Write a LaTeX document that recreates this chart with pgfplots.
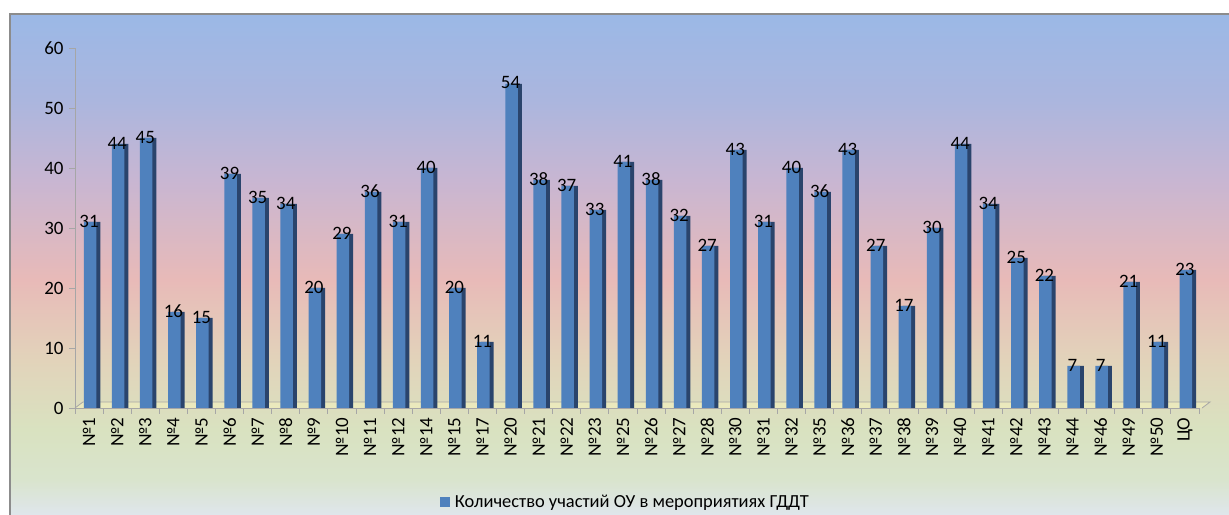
\documentclass[border=0pt]{standalone}
\usepackage{pgfplots}
\pgfplotsset{compat=1.18}
\usepackage{fontspec}
\setmainfont{Carlito}
\definecolor{barblue}{RGB}{79,129,189}
\definecolor{barside}{RGB}{42,68,108}
\definecolor{cA}{RGB}{223,230,236}
\definecolor{cB}{RGB}{217,228,205}
\definecolor{cC}{RGB}{217,226,192}
\definecolor{cD}{RGB}{226,211,186}
\definecolor{cE}{RGB}{232,186,184}
\definecolor{cF}{RGB}{200,182,210}
\definecolor{cG}{RGB}{171,182,222}
\definecolor{cH}{RGB}{155,184,230}
\pgfdeclareverticalshading{bg}{100bp}{color(0bp)=(cA); color(25bp)=(cA); color(28.5bp)=(cB); color(33.5bp)=(cC); color(40.5bp)=(cD); color(48.5bp)=(cE); color(58.4bp)=(cF); color(66.4bp)=(cG); color(75bp)=(cH); color(100bp)=(cH)}
\pgfplotstableread{
x v
0 31
1 44
2 45
3 16
4 15
5 39
6 35
7 34
8 20
9 29
10 36
11 31
12 40
13 20
14 11
15 54
16 38
17 37
18 33
19 41
20 38
21 32
22 27
23 43
24 31
25 40
26 36
27 43
28 27
29 17
30 30
31 44
32 34
33 25
34 22
35 7
36 7
37 21
38 11
39 23
}\data
\begin{document}
\begin{tikzpicture}[x=1bp,y=1bp]
\path[use as bounding box] (0,0) rectangle (1229,515);
\shade[shading=bg] (10,0) rectangle (1229,501);
\draw[gray!90, line width=1.5bp] (10,0) -- (10,501) -- (1229,501);
\fill[white!75!yellow!90!gray, opacity=0.6] (75,107) -- (1202,107) -- (1210,113) -- (83,113) -- cycle;
\draw[gray!70, line width=0.8bp] (1202,107) -- (1210,113) -- (83,113) -- (75,107);
\begin{axis}[
  at={(75bp,107bp)}, anchor=south west,
  scale only axis, width=1124bp, height=360bp,
  xmin=-0.5, xmax=39.5, ymin=0, ymax=60,
  axis lines*=left,
  axis line style={gray!70, line width=0.8bp},
  ytick={0,10,...,60},
  xtick={0,...,39},
  xticklabels={№1,№2,№3,№4,№5,№6,№7,№8,№9,№10,№11,№12,№14,№15,№17,№20,№21,№22,№23,№25,№26,№27,№28,№30,№31,№32,№35,№36,№37,№38,№39,№40,№41,№42,№43,№44,№46,№49,№50,ЦО},
  minor xtick={-0.5,0.5,...,39.5},
  major x tick style={draw=none},
  minor x tick style={gray!70, line width=0.8bp},
  y tick style={gray!70, line width=0.8bp},
  tick align=outside,
  major tick length=6bp, minor tick length=6bp,
  /pgf/number format/assume math mode=true,
  tick label style={font=\fontsize{19}{21}\selectfont, text=black},
  x tick label style={rotate=90, anchor=east},
  y tick label style={xshift=-2bp},
  legend style={at={(0.491,-0.261)}, anchor=center, draw=none, fill=none, font=\fontsize{18.5}{20}\selectfont, text=black, nodes={inner xsep=5bp}},
  clip=false,
]
\addplot[ybar, fill=barside, draw=none, bar width=12.5bp, bar shift=5bp, forget plot] table[x=x,y=v] {\data};
\addplot[ybar, fill=barblue, draw=none, bar width=12.5bp, bar shift=1bp,
  legend image code/.code={\fill[barblue] (-2bp,-5bp) rectangle (8bp,5bp);},
  nodes near coords,
  nodes near coords style={anchor=center, yshift=1bp, font=\fontsize{19}{21}\selectfont, text=black},
] table[x=x,y=v] {\data};
\addlegendentry{Количество участий ОУ в мероприятиях ГДДТ}
\end{axis}
\end{tikzpicture}
\end{document}
